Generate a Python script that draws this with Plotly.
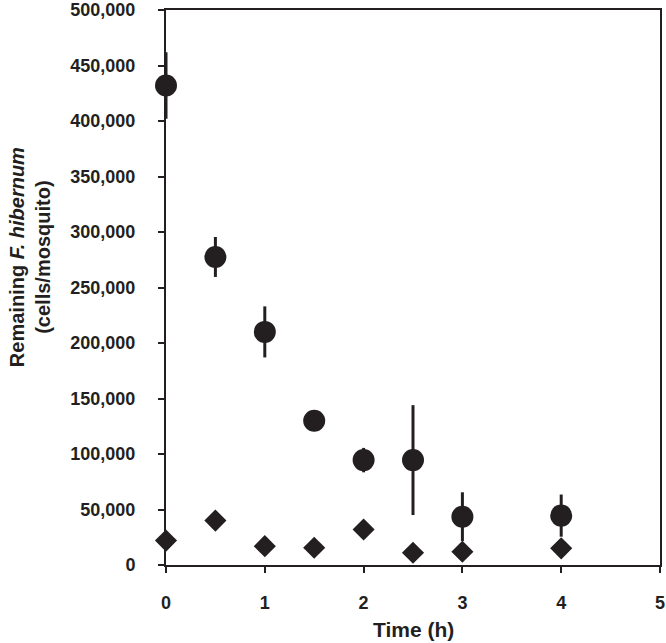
import plotly.graph_objects as go

# time points (h)
time_circle = [0, 0.5, 1, 1.5, 2, 2.5, 3, 4]
cells_circle = [432000, 277500, 210000, 130000, 94500, 94500, 43500, 44500]
err_circle = [30000, 18000, 23000, 2000, 11000, 49500, 22000, 19000]

time_diamond = [0, 0.5, 1, 1.5, 2, 2.5, 3, 4]
cells_diamond = [22000, 40000, 17000, 15500, 32000, 11000, 12000, 15000]

y_ticks = [0, 50000, 100000, 150000, 200000, 250000, 300000, 350000, 400000, 450000, 500000]
x_ticks = [0, 1, 2, 3, 4, 5]

INK = "#231f20"
FONT = "Liberation Sans, Arial, sans-serif"

fig = go.Figure()
fig.add_trace(go.Scatter(
    x=time_diamond, y=cells_diamond, mode="markers",
    marker=dict(symbol="diamond", size=17, color=INK, line=dict(width=0)),
    cliponaxis=False, showlegend=False,
))
fig.add_trace(go.Scatter(
    x=time_circle, y=cells_circle, mode="markers",
    error_y=dict(type="data", array=err_circle, color=INK, thickness=3, width=0),
    marker=dict(symbol="circle", size=22, color=INK, line=dict(width=0)),
    cliponaxis=False, showlegend=False,
))

axis_common = dict(
    showgrid=False, zeroline=False, showline=True, linecolor=INK, linewidth=2,
    mirror=True, ticks="outside", ticklen=6, tickwidth=2, tickcolor=INK,
    tickfont=dict(family=FONT, size=18, color=INK, weight="bold"),
    automargin=False, ticklabeloverflow="allow",
)

fig.update_xaxes(
    range=[0, 5], tickvals=x_ticks, ticklabelstandoff=14,
    **axis_common,
)
fig.update_yaxes(
    range=[0, 500000], tickvals=y_ticks, tickformat=",d", ticklabelstandoff=19,
    **axis_common,
)

fig.add_annotation(
    text="<b>Time (h)</b>",
    xref="paper", yref="paper", x=0.5, y=-0.117,
    xanchor="center", yanchor="middle", showarrow=False,
    font=dict(family=FONT, size=21, color=INK),
)
fig.add_annotation(
    text="<b>Remaining <i>F. hibernum</i></b><br><b>(cells/mosquito)</b>",
    xref="paper", yref="paper", x=-0.275, y=0.555,
    xanchor="center", yanchor="middle", textangle=-90, showarrow=False,
    font=dict(family=FONT, size=20, color=INK),
)

fig.update_layout(
    width=666, height=643,
    margin=dict(l=166, r=6, t=10, b=78),
    plot_bgcolor="white", paper_bgcolor="white",
)

# drop the default page margin so the figure fills the window exactly
fig.write_html(
    "out.html",
    config={"displayModeBar": False},
    post_script="document.body.style.margin='0';",
)
